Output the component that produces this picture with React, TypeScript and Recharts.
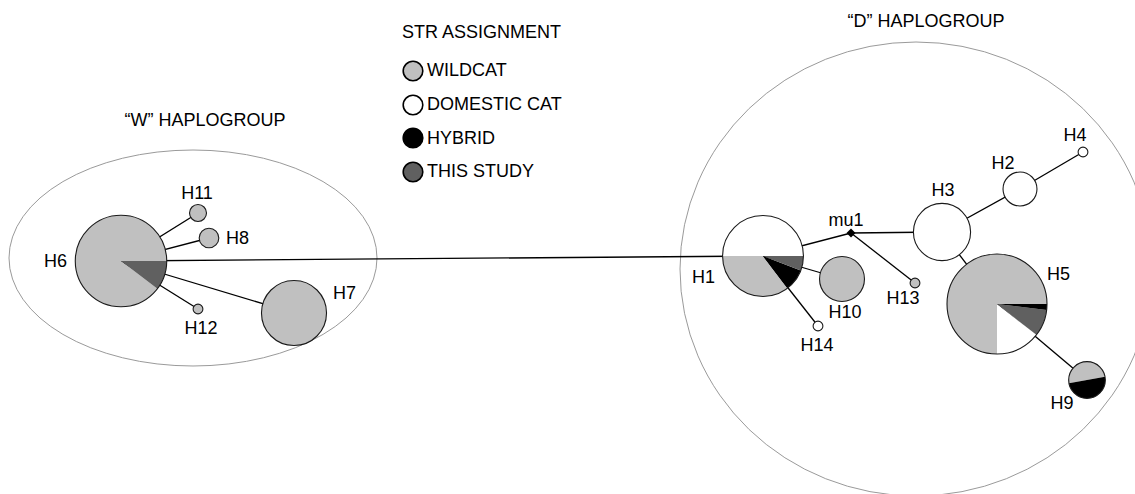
import React from "react";
import {
  ScatterChart,
  Scatter,
  XAxis,
  YAxis,
  ZAxis,
  ReferenceArea,
  Sector,
  Legend,
} from "recharts";

// STR assignment classes
const categories = ["wildcat", "domestic", "hybrid", "thisStudy"];
const categoryLabels = ["WILDCAT", "DOMESTIC CAT", "HYBRID", "THIS STUDY"];

// haplotypes, network layout coordinates and sample counts per class
const haplotypes = ["H1", "H2", "H3", "H4", "H5", "H6", "H7", "H8", "H9", "H10", "H11", "H12", "H13", "H14", "mu1"];
const layoutX = [763, 1020, 942, 1083, 997, 121, 294, 209, 1087, 842, 198, 198, 915, 818, 851];
const layoutY = [256, 189, 232, 152, 304, 261, 313, 238, 380, 279, 213, 309, 283, 326, 233];
const wildcatN = [24, 0, 0, 0, 78, 78, 44, 4, 7, 21, 3, 1, 1, 0, 0];
const domesticN = [34, 12, 34, 1, 15, 0, 0, 0, 0, 0, 0, 0, 0, 1, 0];
const hybridN = [6, 0, 0, 0, 2, 0, 0, 0, 7, 0, 0, 0, 0, 0, 0];
const thisStudyN = [4, 0, 0, 0, 9, 9, 0, 0, 0, 0, 0, 0, 0, 0, 0];

// mutational links
const links = [
  ["H6", "H1"],
  ["H6", "H11"],
  ["H6", "H8"],
  ["H6", "H12"],
  ["H6", "H7"],
  ["H1", "mu1"],
  ["H1", "H10"],
  ["H1", "H14"],
  ["mu1", "H3"],
  ["mu1", "H13"],
  ["H3", "H2"],
  ["H2", "H4"],
  ["H3", "H5"],
  ["H5", "H9"],
];

// haplogroup outlines (layout units)
const groupNames = ["\u201cW\u201d HAPLOGROUP", "\u201cD\u201d HAPLOGROUP"];
const groupCx = [193, 916];
const groupCy = [258, 269];
const groupRx = [184, 236];
const groupRy = [108, 227];
const groupTitleX = [205, 926];
const groupTitleY = [120, 21];

const COLORS: Record<string, string> = {
  wildcat: "#c0c0c0",
  domestic: "#ffffff",
  hybrid: "#000000",
  thisStudy: "#606060",
};
const FONT = "'Liberation Sans', Arial, Helvetica, sans-serif";

// slice order (counter-clockwise from east) for mixed haplotypes
const PIE_ORDER: Record<string, string[]> = {
  H1: ["domestic", "wildcat", "hybrid", "thisStudy"],
  H5: ["wildcat", "domestic", "thisStudy", "hybrid"],
  H6: ["wildcat", "thisStudy"],
  H9: ["wildcat", "hybrid"],
};
const PIE_START: Record<string, number> = { H9: 10 };

const LABEL_POS: Record<string, [number, number, "start" | "middle" | "end"]> = {
  H1: [-48, 21, "end"],
  H2: [-17, -26, "middle"],
  H3: [1, -42, "middle"],
  H4: [-8, -17, "middle"],
  H5: [50, -30, "start"],
  H6: [-54, 0, "end"],
  H7: [39, -20, "start"],
  H8: [17, 0, "start"],
  H9: [-25, 23, "middle"],
  H10: [3, 33, "middle"],
  H11: [-1, -20, "middle"],
  H12: [3, 19, "middle"],
  H13: [-12, 15, "middle"],
  H14: [-1, 19, "middle"],
  mu1: [-5, -13, "middle"],
};

const nodes = haplotypes.map((name, i) => ({
  name,
  x: layoutX[i],
  y: layoutY[i],
  n: wildcatN[i] + domesticN[i] + hybridN[i] + thisStudyN[i],
  counts: {
    wildcat: wildcatN[i],
    domestic: domesticN[i],
    hybrid: hybridN[i],
    thisStudy: thisStudyN[i],
  } as Record<string, number>,
}));

const byName = (name: string) => nodes.find((d) => d.name === name)!;

const titles = groupNames.map((label, i) => ({ label, x: groupTitleX[i], y: groupTitleY[i] }));

function HaplotypeNode(props: any) {
  const { cx, cy, width, payload } = props;
  const r = width / 2;
  const [dx, dy, anchor] = LABEL_POS[payload.name];
  const label = (
    <text
      x={cx + dx}
      y={cy + dy}
      textAnchor={anchor}
      dominantBaseline="central"
      fontSize={18}
      fontFamily={FONT}
      fill="#000"
    >
      {payload.name}
    </text>
  );

  if (payload.n === 0) {
    const d = 4.5;
    return (
      <g>
        <polygon
          points={`${cx},${cy - d} ${cx + d},${cy} ${cx},${cy + d} ${cx - d},${cy}`}
          fill="#000"
        />
        {label}
      </g>
    );
  }

  const order = PIE_ORDER[payload.name];
  let slices: React.ReactNode = null;
  if (order) {
    let angle = PIE_START[payload.name] ?? 0;
    slices = order.map((cat) => {
      const sweep = (payload.counts[cat] / payload.n) * 360;
      const start = angle;
      angle += sweep;
      return (
        <Sector
          key={cat}
          cx={cx}
          cy={cy}
          innerRadius={0}
          outerRadius={r}
          startAngle={start}
          endAngle={angle}
          fill={COLORS[cat]}
          stroke="none"
        />
      );
    });
  }
  const single = categories.find((c) => payload.counts[c] === payload.n) ?? "wildcat";

  return (
    <g>
      <circle cx={cx} cy={cy} r={r} fill={order ? "none" : COLORS[single]} stroke="none" />
      {slices}
      <circle cx={cx} cy={cy} r={r} fill="none" stroke="#1a1a1a" strokeWidth={1.1} />
      {label}
    </g>
  );
}

function GroupTitle(props: any) {
  const { cx, cy, payload } = props;
  return (
    <text
      x={cx}
      y={cy}
      textAnchor="middle"
      dominantBaseline="central"
      fontSize={18}
      fontFamily={FONT}
      fill="#000"
    >
      {payload.label}
    </text>
  );
}

function StrLegend() {
  return (
    <div style={{ fontFamily: FONT, fontSize: 18, color: "#000" }}>
      <div style={{ height: 21, lineHeight: "21px", whiteSpace: "nowrap" }}>STR ASSIGNMENT</div>
      <div style={{ marginTop: 11 }}>
        {categories.map((cat, i) => (
          <div
            key={cat}
            style={{ height: 33.7, display: "flex", alignItems: "center", whiteSpace: "nowrap" }}
          >
            <svg width={22} height={22} style={{ display: "block" }}>
              <circle cx={11} cy={11} r={9.8} fill={COLORS[cat]} stroke="#000" strokeWidth={1.6} />
            </svg>
            <span style={{ marginLeft: 3, lineHeight: "21px" }}>{categoryLabels[i]}</span>
          </div>
        ))}
      </div>
    </div>
  );
}

export default function App() {
  return (
    <div style={{ position: "absolute", left: 0, top: 0, width: 1135, height: 494, background: "#fff" }}>
      <ScatterChart width={1135} height={494} margin={{ top: 0, right: 0, bottom: 0, left: 0 }}>
        <XAxis type="number" dataKey="x" domain={[0, 1135]} hide />
        <YAxis type="number" dataKey="y" domain={[0, 494]} reversed hide />
        <ZAxis type="number" dataKey="n" domain={[0, 100]} range={[0, 2500 * Math.PI]} />
        {groupNames.map((g, i) => (
          <ReferenceArea
            key={g}
            x1={groupCx[i] - groupRx[i]}
            x2={groupCx[i] + groupRx[i]}
            y1={groupCy[i] - groupRy[i]}
            y2={groupCy[i] + groupRy[i]}
            ifOverflow="visible"
            shape={(p: any) => (
              <ellipse
                cx={p.x + p.width / 2}
                cy={p.y + p.height / 2}
                rx={p.width / 2}
                ry={p.height / 2}
                fill="none"
                stroke="#9a9a9a"
                strokeWidth={1}
              />
            )}
          />
        ))}
        {links.map(([a, b]) => (
          <Scatter
            key={`${a}-${b}`}
            data={[byName(a), byName(b)]}
            line={{ stroke: "#000", strokeWidth: 1.3 }}
            shape={() => <g />}
            isAnimationActive={false}
          />
        ))}
        <Scatter data={nodes} shape={HaplotypeNode} isAnimationActive={false} />
        <Scatter data={titles} shape={GroupTitle} isAnimationActive={false} />
        <Legend
          layout="vertical"
          align="center"
          verticalAlign="middle"
          content={() => <StrLegend />}
          wrapperStyle={{ position: "absolute", left: 402, top: 22, width: 200, height: "auto" }}
        />
      </ScatterChart>
    </div>
  );
}
